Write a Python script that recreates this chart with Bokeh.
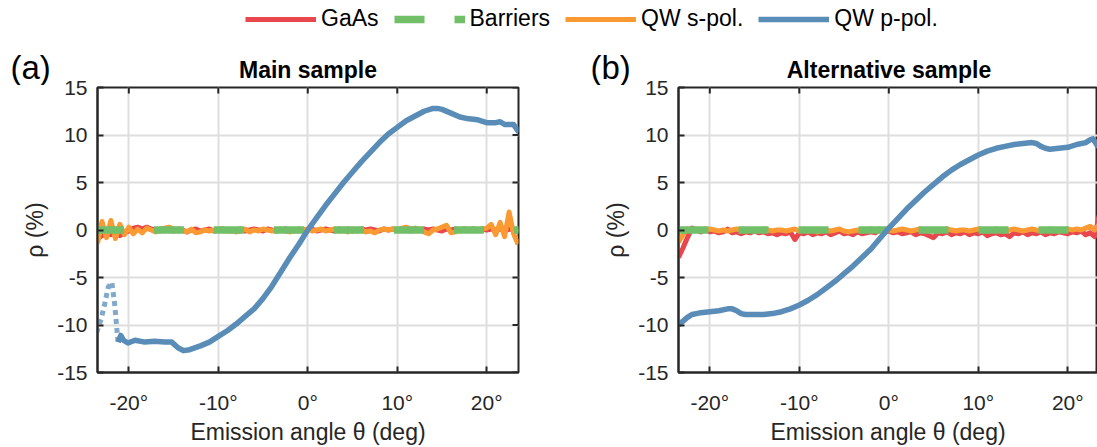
import numpy as np
from bokeh.plotting import figure
from bokeh.models import Range1d, FixedTicker, Label, Legend, LegendItem
from bokeh.layouts import column, row
from bokeh.embed import file_html
from bokeh.resources import INLINE

# ---------------- data ----------------
series_names = ["GaAs", "Barriers", "QW s-pol.", "QW p-pol."]
panel_titles = ["Main sample", "Alternative sample"]
panel_tags = ["(a)", "(b)"]
x_ticks = [-20, -10, 0, 10, 20]
x_tick_labels = ["-20°", "-10°", "0°", "10°", "20°"]
y_ticks = [-15, -10, -5, 0, 5, 10, 15]
y_tick_labels = ["-15", "-10", "-5", "0", "5", "10", "15"]

angle_grid = np.round(np.arange(-23.5, 23.51, 0.5), 2)  # sampling grid (95 points)

# panel (a)
gaas_a = [-0.9, -0.6, -0.3, -0.5, -0.2, -0.6, -0.3, -0.1, 0.2, 0.3,
          0.1, 0.3, 0.1, 0.0, -0.1, 0.1, 0.0, -0.1, 0.1, 0.0,
          -0.2, 0.0, 0.1, -0.1, 0.0, 0.1, -0.1, 0.0, 0.1, 0.0,
          -0.1, 0.0, 0.1, -0.1, 0.0, 0.1, 0.0, -0.1, 0.1, 0.0,
          -0.1, 0.0, 0.1, 0.0, -0.1, 0.1, 0.0, 0.0, 0.1, -0.1,
          0.0, 0.1, 0.0, -0.1, 0.1, 0.0, 0.1, -0.1, 0.0, 0.1,
          0.0, 0.1, 0.0, -0.1, 0.1, 0.0, 0.1, 0.0, 0.1, 0.0,
          -0.1, 0.1, 0.0, 0.1, 0.0, 0.1, 0.0, -0.1, 0.1, 0.0,
          0.1, 0.0, 0.1, 0.0, 0.1, 0.0, 0.1, 0.0, 0.1, 0.0,
          0.1, -0.1, 0.1, 0.0, -0.2]
qws_a = [-1.4, 0.9, -0.8, 1.0, -0.9, 0.6, -0.5, 0.3, -0.4, 0.1,
         -0.3, 0.2, 0.0, -0.2, 0.1, 0.2, 0.3, 0.1, -0.1, 0.0,
         -0.2, 0.1, -0.3, -0.2, 0.0, -0.1, 0.0, 0.1, 0.1, -0.1,
         0.0, -0.2, -0.1, 0.1, -0.2, 0.0, -0.1, 0.1, 0.0, -0.1,
         0.0, 0.1, -0.1, -0.2, 0.0, -0.1, 0.0, 0.1, -0.1, 0.0,
         0.1, -0.1, 0.0, 0.1, -0.1, 0.0, -0.2, 0.1, -0.1, 0.0,
         -0.2, -0.1, -0.3, 0.0, 0.1, 0.0, 0.1, 0.0, 0.2, 0.3,
         0.1, 0.2, 0.0, -0.2, -0.4, 0.0, 0.1, 0.3, 0.5, -0.3,
         -0.2, 0.0, 0.1, 0.0, 0.1, 0.0, 0.1, 0.2, 0.6, -0.5,
         0.8, -0.7, 1.9, -0.4, -1.5]
barriers_a_x = [-23.9, 23.6]
barriers_a = [0.0, 0.0]
qwp_a_x = [-21.2, -20.9, -20.6, -20.1, -19.3, -18.2, -17.1, -16.0, -15.2, -14.5,
           -13.9, -13.2, -12.0, -11.0, -10.0, -9.0, -8.0, -7.0, -6.0, -5.0,
           -4.0, -3.0, -2.0, -1.0, 0.0, 1.0, 2.0, 3.0, 4.0, 5.0,
           6.0, 7.0, 8.0, 9.0, 10.0, 11.0, 12.0, 13.0, 14.0, 14.5,
           15.0, 16.0, 17.0, 18.0, 19.0, 20.0, 21.0, 21.5, 22.0, 23.0, 23.6]
qwp_a = [-11.8, -11.1, -11.6, -11.9, -11.6, -11.8, -11.7, -11.8, -11.8, -12.4,
         -12.7, -12.6, -12.2, -11.8, -11.2, -10.6, -9.9, -9.1, -8.3, -7.2,
         -5.9, -4.4, -2.9, -1.5, 0.0, 1.3, 2.6, 3.8, 5.0, 6.1,
         7.2, 8.2, 9.2, 10.1, 10.8, 11.5, 12.0, 12.5, 12.8, 12.8,
         12.7, 12.3, 11.9, 11.7, 11.6, 11.3, 11.3, 11.4, 11.1, 11.1, 10.3]
qwp_a_edge_x = [-23.6, -23.1, -22.7, -22.3, -21.9, -21.6, -21.35, -21.2]
qwp_a_edge = [-10.8, -9.4, -7.8, -6.0, -5.5, -7.6, -10.3, -11.8]

# panel (b)
gaas_b = [-2.9, -1.9, -0.8, 0.2, 0.0, -0.2, 0.1, -0.2, -0.1, -0.3,
          -0.2, 0.1, -0.3, -0.2, -0.4, -0.2, -0.3, -0.1, -0.3, -0.2,
          -0.4, -0.3, -0.5, -0.3, -0.4, -0.2, -1.0, -0.3, -0.4, -0.2,
          -0.5, -0.3, -0.4, -0.2, -0.5, -0.3, -0.1, -0.4, -0.3, -0.5,
          -0.2, -0.4, -0.3, -0.2, -0.3, 0.1, -0.2, -0.1, -0.3, -0.2,
          -0.4, -0.3, -0.2, -0.5, -0.3, -0.4, -0.6, -0.8, -0.3, -0.4,
          -0.2, -0.5, -0.3, -0.4, -0.2, -0.5, -0.3, -0.4, -0.2, -0.6,
          -0.4, -0.3, -0.5, -0.4, -0.7, -0.3, -0.4, -0.2, -0.5, -0.3,
          -0.4, -0.2, -0.5, -0.3, -0.4, -0.2, -0.3, -0.4, -0.2, -0.3,
          -0.1, -0.5, -0.3, -0.7, 1.5]
qws_b = [-1.3, -0.5, 0.1, 0.0, 0.1, -0.1, 0.0, 0.1, 0.0, -0.1,
         0.0, -0.1, 0.0, 0.1, 0.0, -0.1, 0.0, -0.1, 0.0, 0.1,
         0.0, -0.1, 0.0, 0.0, -0.1, 0.0, 0.1, -0.1, 0.0, -0.1,
         0.0, -0.2, -0.1, 0.0, -0.1, 0.0, 0.1, -0.1, -0.2, -0.1,
         0.0, -0.1, 0.0, 0.1, 0.0, -0.1, 0.0, 0.0, -0.1, 0.0,
         0.1, 0.0, -0.1, 0.0, 0.1, 0.0, -0.1, 0.0, -0.1, 0.0,
         0.1, 0.0, -0.1, 0.0, 0.0, -0.1, 0.0, 0.1, 0.0, -0.1,
         0.0, 0.1, 0.0, -0.1, 0.0, 0.1, 0.0, -0.1, 0.0, 0.1,
         0.0, -0.1, 0.0, 0.1, 0.0, -0.1, 0.0, 0.1, 0.0, 0.1,
         0.0, 0.2, 0.4, 0.0, 0.6]
barriers_b_x = [-23.5, 23.4]
barriers_b = [0.0, 0.0]
qwp_b_x = [-23.5, -23.0, -22.5, -22.0, -21.5, -21.0, -20.0, -19.0, -18.0, -17.5,
           -17.0, -16.5, -16.0, -15.0, -14.0, -13.0, -12.0, -11.0, -10.0, -9.0,
           -8.0, -7.0, -6.0, -5.0, -4.0, -3.0, -2.0, -1.0, 0.0, 1.0,
           2.0, 3.0, 4.0, 5.0, 6.0, 7.0, 8.0, 9.0, 10.0, 11.0,
           12.0, 13.0, 14.0, 15.0, 16.0, 16.5, 17.0, 17.5, 18.0, 19.0,
           20.0, 21.0, 22.0, 22.5, 22.8, 23.1, 23.4]
qwp_b = [-10.0, -9.6, -9.2, -8.9, -8.8, -8.7, -8.6, -8.5, -8.3, -8.3,
         -8.5, -8.8, -8.9, -8.9, -8.9, -8.8, -8.6, -8.3, -7.9, -7.4,
         -6.8, -6.1, -5.4, -4.6, -3.8, -2.9, -2.0, -0.9, 0.2, 1.2,
         2.2, 3.1, 4.0, 4.8, 5.6, 6.3, 6.9, 7.4, 7.9, 8.3,
         8.6, 8.8, 9.0, 9.1, 9.2, 9.1, 8.8, 8.6, 8.5, 8.6,
         8.7, 9.0, 9.2, 9.5, 9.6, 9.2, 8.7]

# ---------------- style ----------------
FONT = "Liberation Sans"
AX = "#262626"
C_RED = "#e8474d"
C_GREEN = "#72bf6a"
C_ORANGE = "#fb9a33"
C_BLUE = "#5a8cb8"
GRID = "#dedede"
Y_MIN, Y_MAX = -15, 15
HEADER_H = 85
OVERLAP = 12


def style_axis(ax):
    ax.axis_line_width = 2
    ax.axis_line_color = AX
    ax.major_tick_in = 6
    ax.major_tick_out = 0
    ax.major_tick_line_width = 2
    ax.major_tick_line_color = AX
    ax.minor_tick_line_color = None
    ax.major_label_text_font = FONT
    ax.major_label_text_color = AX
    ax.major_label_text_font_size = "21px"
    ax.axis_label_text_font = FONT
    ax.axis_label_text_font_size = "23px"
    ax.axis_label_text_font_style = "normal"
    ax.axis_label_text_color = AX


def make_panel(x0, x1, width, mb_left, mb_right, right_ticks,
               gaas, qws, bx, bar, px, pv, edge=None):
    p = figure(width=width, height=447 - HEADER_H + OVERLAP,
               x_range=Range1d(x0, x1), y_range=Range1d(Y_MIN, Y_MAX),
               output_backend="svg", toolbar_location=None,
               min_border_left=mb_left, min_border_right=mb_right,
               min_border_top=2 + OVERLAP, min_border_bottom=74)
    p.outline_line_color = AX
    p.outline_line_width = 2
    p.background_fill_color = "white"
    p.border_fill_color = None

    xa = p.below[0]
    xa.ticker = FixedTicker(ticks=x_ticks)
    xa.major_label_overrides = {t: l for t, l in zip(x_ticks, x_tick_labels)}
    style_axis(xa)
    xa.axis_label = "Emission angle θ (deg)"
    xa.major_label_standoff = 18
    xa.axis_label_standoff = 2

    ya = p.left[0]
    ya.ticker = FixedTicker(ticks=y_ticks)
    ya.major_label_overrides = {t: l for t, l in zip(y_ticks, y_tick_labels)}
    style_axis(ya)
    ya.axis_label = "ρ (%)"
    ya.major_label_standoff = 10
    ya.axis_label_standoff = 6

    p.xgrid.ticker = FixedTicker(ticks=x_ticks)
    p.ygrid.ticker = FixedTicker(ticks=y_ticks)
    for g in (p.xgrid, p.ygrid):
        g.grid_line_color = GRID
        g.grid_line_width = 2

    # inward tick marks on the top (and right) edges of the box
    tick_len_y = 6 * (Y_MAX - Y_MIN) / 286.0
    p.segment(x0=x_ticks, y0=[Y_MAX] * len(x_ticks), x1=x_ticks,
              y1=[Y_MAX - tick_len_y] * len(x_ticks), line_color=AX, line_width=2)
    if right_ticks:
        tick_len_x = 6 * (x1 - x0) / 421.0
        p.segment(x0=[x1] * len(y_ticks), y0=y_ticks, x1=[x1 - tick_len_x] * len(y_ticks),
                  y1=y_ticks, line_color=AX, line_width=2)

    p.line(angle_grid, gaas, line_color=C_RED, line_width=5, line_join="round")
    p.line(angle_grid, qws, line_color=C_ORANGE, line_width=5, line_join="round")
    p.line(bx, bar, line_color=C_GREEN, line_width=7.5, line_dash="30 30")
    if edge is not None:
        p.line(edge[0], edge[1], line_color=C_BLUE, line_width=5, line_alpha=0.75,
               line_dash="5 4")
    p.line(px, pv, line_color=C_BLUE, line_width=5.5, line_join="round")
    return p


pa = make_panel(-23.5, 23.55, 560, 97, 42, True,
                gaas_a, qws_a, barriers_a_x, barriers_a, qwp_a_x, qwp_a,
                edge=(qwp_a_edge_x, qwp_a_edge))
pb = make_panel(-23.5, 23.32, 537, 118, 0, False,
                gaas_b, qws_b, barriers_b_x, barriers_b, qwp_b_x, qwp_b)

# ---------------- header strip: legend, panel tags, titles ----------------
pl = figure(width=1097, height=HEADER_H, x_range=Range1d(0, 1), y_range=Range1d(0, 1),
            output_backend="svg", toolbar_location=None,
            x_axis_location=None, y_axis_location=None,
            min_border_left=0, min_border_right=0, min_border_top=0, min_border_bottom=0)
pl.outline_line_color = None
pl.grid.visible = False
off_x = [-5, -4]
off_y = [-5, -5]
r1 = pl.line(off_x, off_y, line_color=C_RED, line_width=5)
r2 = pl.line(off_x, off_y, line_color=C_GREEN, line_width=7.5, line_dash="30 30")
r3 = pl.line(off_x, off_y, line_color=C_ORANGE, line_width=5)
r4 = pl.line(off_x, off_y, line_color=C_BLUE, line_width=5.5)
leg = Legend(items=[LegendItem(label=n, renderers=[r]) for n, r in zip(series_names, [r1, r2, r3, r4])],
             orientation="horizontal", location=(245, 53),
             border_line_color=None, background_fill_alpha=0,
             padding=0, margin=0, spacing=15, label_standoff=5,
             glyph_width=71, glyph_height=26, label_height=26,
             label_text_font=FONT, label_text_font_size="23px", label_text_color="black")
pl.add_layout(leg, "center")

for tag, tx, title, cx in zip(panel_tags, [10, 590], panel_titles, [307.5, 888.5]):
    pl.add_layout(Label(x=tx, y=18, x_units="screen", y_units="screen", text=tag,
                        text_font=FONT, text_font_size="33px", text_color="black",
                        text_baseline="middle", text_align="left"))
    pl.add_layout(Label(x=cx, y=16, x_units="screen", y_units="screen", text=title,
                        text_font=FONT, text_font_size="23px", text_font_style="bold",
                        text_color="black", text_baseline="middle", text_align="center"))

panels = row(pa, pb, margin=(-OVERLAP, 0, 0, 0))
layout = column(pl, panels)
open("out.html", "w").write(file_html(layout, INLINE))
